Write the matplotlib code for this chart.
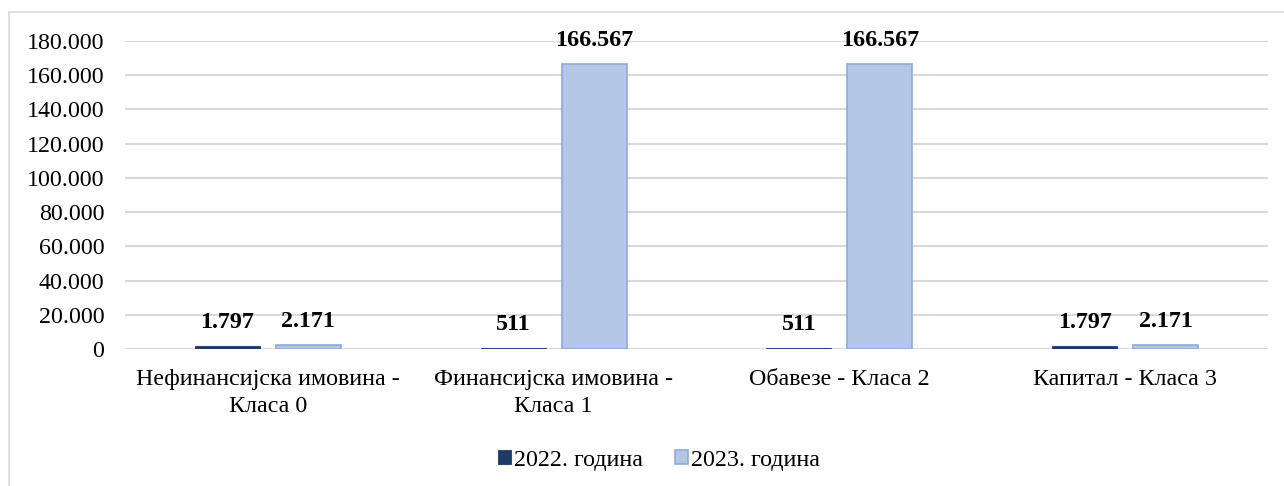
import numpy as np
import matplotlib.pyplot as plt
from matplotlib.lines import Line2D

# data
categories = ['Нефинансијска имовина -\nКласа 0', 'Финансијска имовина -\nКласа 1',
              'Обавезе - Класа 2', 'Капитал - Класа 3']
values_2022 = [1797, 511, 511, 1797]
values_2023 = [2171, 166567, 166567, 2171]
series_names = ['2022. година', '2023. година']
yticks = [0, 20000, 40000, 60000, 80000, 100000, 120000, 140000, 160000, 180000]


def fmt(v):
    # thousands separator as dot
    return f"{v:,.0f}".replace(',', '.')


plt.rcParams['font.family'] = ['Liberation Serif', 'DejaVu Serif']
fs = 17.3

fig = plt.figure(figsize=(12.84, 4.86), dpi=100)
ax = fig.add_axes([125 / 1284, 1 - 349 / 486, (1268 - 125) / 1284, (349 - 41) / 486])

# outer chart frame (cut off on right / bottom like the source)
fig.add_artist(Line2D([9 / 1284, 9 / 1284], [0, 1 - 12 / 486], transform=fig.transFigure,
                      color='#d9d9d9', lw=1.2))
fig.add_artist(Line2D([9 / 1284, 1], [1 - 12 / 486, 1 - 12 / 486], transform=fig.transFigure,
                      color='#d9d9d9', lw=1.2))

x = np.arange(len(categories))
w = 0.2275
off = 0.1417
b1 = ax.bar(x - off, values_2022, w, color='#1f3864', edgecolor='#2f4b7c', lw=0.8,
            label=series_names[0], zorder=3)
b2 = ax.bar(x + off, values_2023, w, color='#b4c7e7', edgecolor='#8faadc', lw=1.2,
            label=series_names[1], zorder=3)

for bars, vals in [(b1, values_2022), (b2, values_2023)]:
    for r, v in zip(bars, vals):
        ax.annotate(fmt(v), (r.get_x() + r.get_width() / 2, v), xytext=(0, 13),
                    textcoords='offset points', ha='center', va='baseline',
                    fontsize=fs, fontweight='bold')

ax.set_xlim(-0.5, len(categories) - 0.5)
ax.set_ylim(0, 180000)
ax.set_yticks(yticks)
ax.set_yticklabels([fmt(t) for t in yticks], fontsize=fs)
ax.set_xticks(x)
ax.set_xticklabels(categories, fontsize=fs, linespacing=1.35)
ax.tick_params(axis='both', length=0)
ax.tick_params(axis='y', pad=15)
ax.tick_params(axis='x', pad=14.5)
ax.grid(axis='y', color='#d9d9d9', lw=1.5, zorder=0)
ax.set_axisbelow(True)
for s in ax.spines.values():
    s.set_visible(False)

fig.legend(handles=[b1, b2], loc='center', bbox_to_anchor=(659 / 1284, 1 - 460 / 486),
           ncol=2, frameon=False, fontsize=fs, handlelength=0.55, handleheight=0.55,
           handletextpad=0.15, columnspacing=1.3)

fig.savefig('out.png', dpi=100)
